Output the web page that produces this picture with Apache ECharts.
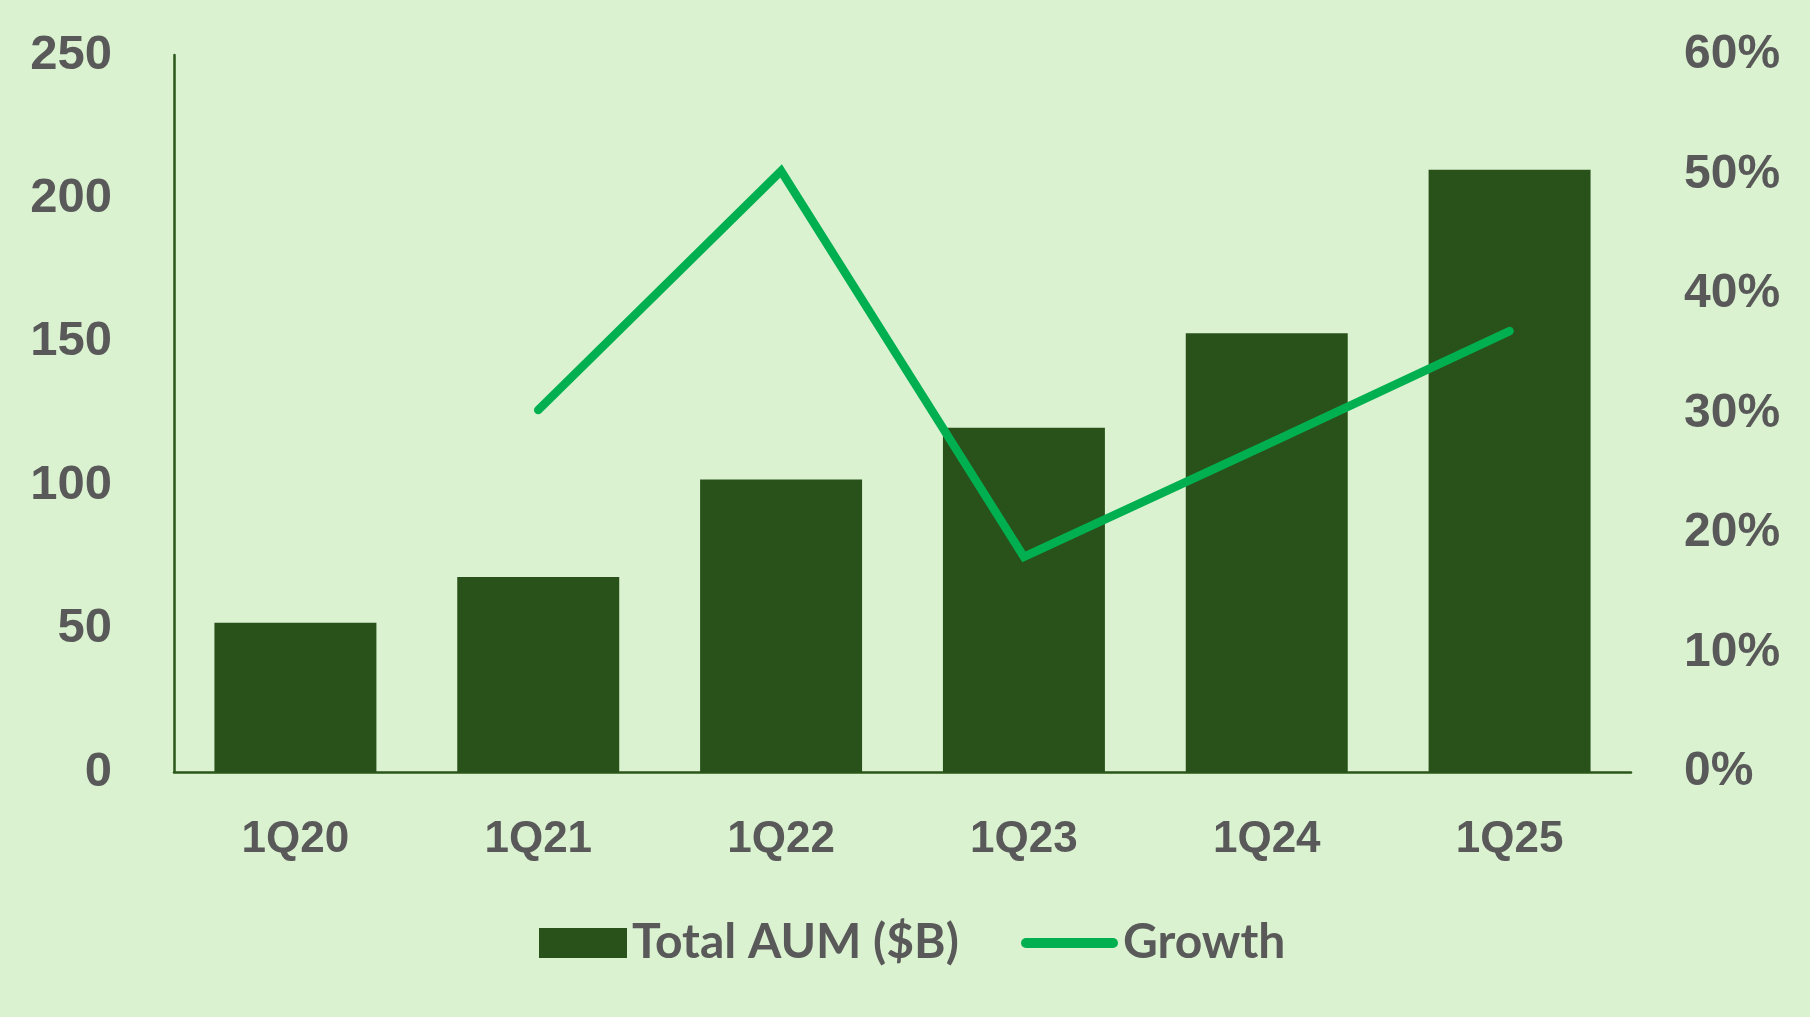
<!DOCTYPE html>
<html>
<head>
<meta charset="utf-8">
<script src="https://cdn.jsdelivr.net/npm/echarts@6/dist/echarts.min.js"></script>
<style>
html,body{margin:0;padding:0;background:#DAF2D0;}
#chart{width:1810px;height:1017px;}
</style>
</head>
<body>
<div id="chart"></div>
<script>
const categories = ['1Q20', '1Q21', '1Q22', '1Q23', '1Q24', '1Q25'];
const totalAUM = [52, 68, 102, 120, 153, 210];
const growth = [null, 30.3, 50.3, 18.0, 27.4, 36.9];
const leftTicks = { min: 0, max: 250, interval: 50 };
const rightTicks = { min: 0, max: 60, interval: 10 };

const chart = echarts.init(document.getElementById('chart'));
const textColor = '#595959';
const barColor = '#285219';
const lineColor = '#00B050';
const axisColor = '#2B5619';

chart.setOption({
  backgroundColor: '#DAF2D0',
  animation: false,
  grid: { left: 174, right: 179, top: 55, bottom: 245, containLabel: false },
  legend: [
    {
      data: ['Total AUM ($B)'],
      left: 534, top: 914,
      itemWidth: 88, itemHeight: 30,
      icon: 'rect',
      textStyle: { color: textColor, fontSize: 48, fontWeight: 'bold', fontFamily: 'Lato' }
    },
    {
      data: ['Growth'],
      left: 1016, top: 914,
      itemWidth: 97, itemHeight: 10,
      icon: 'path://M5,0 L92,0 A5,5 0 0 1 92,10 L5,10 A5,5 0 0 1 5,0 Z',
      textStyle: { color: textColor, fontSize: 48, fontWeight: 'bold', fontFamily: 'Lato' }
    }
  ],
  xAxis: {
    type: 'category',
    data: categories,
    axisLine: { show: true, lineStyle: { color: axisColor, width: 2.5 } },
    axisTick: { show: false },
    axisLabel: { color: textColor, fontSize: 44, fontWeight: 'bold', fontFamily: 'Liberation Sans', margin: 46 }
  },
  yAxis: [
    {
      type: 'value',
      min: leftTicks.min, max: leftTicks.max, interval: leftTicks.interval,
      axisLine: { show: true, lineStyle: { color: axisColor, width: 2.5 } },
      axisTick: { show: false },
      splitLine: { show: false },
      axisLabel: { color: textColor, fontSize: 49, fontWeight: 'bold', fontFamily: 'Liberation Sans', margin: 62, padding: [3, 0, 0, 0] }
    },
    {
      type: 'value',
      min: rightTicks.min, max: rightTicks.max, interval: rightTicks.interval,
      axisLine: { show: false },
      axisTick: { show: false },
      splitLine: { show: false },
      axisLabel: { color: textColor, fontSize: 48, fontWeight: 'bold', fontFamily: 'Liberation Sans', margin: 53, padding: [3, 0, 0, 0], formatter: '{value}%' }
    }
  ],
  series: [
    {
      name: 'Total AUM ($B)',
      type: 'bar',
      data: totalAUM,
      barCategoryGap: '33.3%',
      itemStyle: { color: barColor },
      yAxisIndex: 0
    },
    {
      name: 'Growth',
      type: 'line',
      data: growth,
      yAxisIndex: 1,
      symbol: 'none',
      connectNulls: false,
      lineStyle: { color: lineColor, width: 8.5, cap: 'round', join: 'miter' },
      itemStyle: { color: lineColor }
    }
  ]
});
</script>
</body>
</html>
